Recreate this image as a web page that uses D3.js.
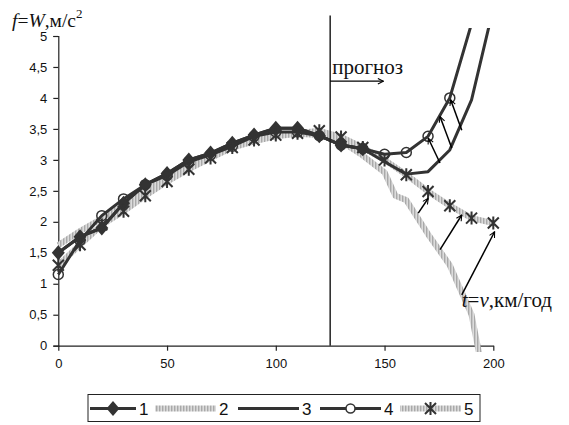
<!DOCTYPE html>
<html>
<head>
<meta charset="utf-8">
<script src="https://cdn.jsdelivr.net/npm/d3@7"></script>
<style>
  body { margin: 0; background: #fff; }
</style>
</head>
<body>
<div id="chart"></div>
<script>
// Speed values (km/h) and series
var speed = [0, 10, 20, 30, 40, 50, 60, 70, 80, 90, 100, 110, 120, 130, 140, 150, 160, 170, 180, 190, 200];
var series1 = [1.5, 1.76, 1.9, 2.3, 2.6, 2.78, 3.0, 3.11, 3.27, 3.4, 3.51, 3.51, 3.39, 3.24, 3.18];
var speed2 = [0, 10, 20, 30, 40, 50, 60, 70, 80, 90, 100, 110, 120, 130, 140, 150, 155, 160, 170, 180, 190, 195];
var series2 = [1.62, 1.85, 2.05, 2.27, 2.5, 2.7, 2.9, 3.05, 3.2, 3.3, 3.38, 3.42, 3.4, 3.3, 3.07, 2.8, 2.42, 2.35, 1.8, 1.3, 0.5, -0.4];
var series3 = [1.5, 1.76, 1.9, 2.3, 2.6, 2.78, 3.0, 3.11, 3.27, 3.4, 3.51, 3.51, 3.39, 3.24, 3.18, 2.97, 2.77, 2.81, 3.16, 3.97, 5.45];
var series4 = [1.15, 1.7, 2.1, 2.37, 2.6, 2.75, 2.97, 3.08, 3.22, 3.38, 3.45, 3.45, 3.39, 3.24, 3.18, 3.09, 3.12, 3.38, 4.0, 5.2];
var series5 = [1.3, 1.63, 1.95, 2.17, 2.42, 2.65, 2.85, 3.03, 3.2, 3.32, 3.4, 3.43, 3.47, 3.37, 3.2, 3.0, 2.76, 2.49, 2.26, 2.06, 1.98];

var yTicks = [0, 0.5, 1, 1.5, 2, 2.5, 3, 3.5, 4, 4.5, 5];
var xTicks = [0, 50, 100, 150, 200];
var legendLabels = ["1", "2", "3", "4", "5"];

var forecastAt = 125;
// arrows: [from speed, from f, to speed, to f]
var arrows = [
  [175.5, 2.95, 170.1, 3.35],
  [180.9, 3.19, 175.5, 3.70],
  [185.5, 3.48, 180.4, 3.97],
  [165.5, 2.14, 170.1, 2.38],
  [175.5, 1.55, 185.5, 2.11],
  [185.5, 0.82, 200.6, 1.84]
];

var width = 569, height = 425;
var dark = "#333";
var sans = "'Liberation Sans', Arial, sans-serif";
var serif = "'Liberation Serif', 'Times New Roman', 'DejaVu Serif', serif";

var svg = d3.select("#chart")
  .append("svg")
  .attr("width", width)
  .attr("height", height)
  .style("font-family", sans);

var x = d3.scaleLinear().domain([0, 200]).range([58.3, 493.3]);
var y = d3.scaleLinear().domain([0, 5]).range([345.7, 36]);

var defs = svg.append("defs");

// striped grey used by series 2 and 5
var pat = defs.append("pattern")
  .attr("id", "hatch")
  .attr("patternUnits", "userSpaceOnUse")
  .attr("width", 3).attr("height", 3);
pat.append("rect").attr("width", 3).attr("height", 3).attr("fill", "#dcdcdc");
pat.append("rect").attr("width", 1.4).attr("height", 3).attr("fill", "#a9a9a9");

defs.append("clipPath").attr("id", "plot-clip")
  .append("rect")
  .attr("x", x(0) - 10).attr("y", y(5.13))
  .attr("width", x(200) - x(0) + 30).attr("height", y(-0.1) - y(5.13));

defs.append("marker")
  .attr("id", "arrow")
  .attr("viewBox", "0 0 10 10")
  .attr("refX", 9).attr("refY", 5)
  .attr("markerWidth", 7).attr("markerHeight", 7)
  .attr("markerUnits", "userSpaceOnUse")
  .attr("orient", "auto")
  .append("path")
  .attr("d", "M1,1 L9,5 L1,9")
  .attr("fill", "none")
  .attr("stroke", "#000")
  .attr("stroke-width", 1.5);

// Y axis
svg.append("g")
  .attr("transform", "translate(" + x(0) + ",0)")
  .call(d3.axisLeft(y).tickValues(yTicks).tickSize(5).tickPadding(6)
    .tickFormat(d => String(d).replace(".", ",")))
  .call(g => g.selectAll("path, line").attr("stroke", "#222").attr("stroke-width", 1.2))
  .call(g => g.selectAll("text").style("font-size", "13px").style("font-family", sans).attr("fill", "#111"));

// X axis
svg.append("g")
  .attr("transform", "translate(0," + y(0) + ")")
  .call(d3.axisBottom(x).tickValues(xTicks).tickSize(5).tickPadding(8).tickSizeOuter(0))
  .call(g => g.selectAll("path, line").attr("stroke", "#222").attr("stroke-width", 1.2))
  .call(g => g.selectAll("text").style("font-size", "13px").style("font-family", sans).attr("fill", "#111"));

var plot = svg.append("g").attr("clip-path", "url(#plot-clip)");

function pts(xs, ys) {
  return ys.map((v, i) => ({v: xs[i], f: v}));
}
var line = d3.line().x(d => x(d.v)).y(d => y(d.f));

var d1 = pts(speed, series1), d2 = pts(speed2, series2), d3s = pts(speed, series3),
    d4 = pts(speed, series4), d5 = pts(speed, series5);

// grey bands
[d2, d5].forEach(function(d) {
  plot.append("path").datum(d)
    .attr("fill", "none").attr("stroke", "url(#hatch)")
    .attr("stroke-width", 6).attr("stroke-linejoin", "round")
    .attr("d", line);
});

// dark lines
[d3s, d4, d1].forEach(function(d) {
  plot.append("path").datum(d)
    .attr("fill", "none").attr("stroke", dark)
    .attr("stroke-width", 3).attr("stroke-linejoin", "round")
    .attr("d", line);
});

var diamond = "M0,-7.5L6.5,0L0,7.5L-6.5,0Z";
var star = "M-5.5,-5.5L5.5,5.5M-5.5,5.5L5.5,-5.5M0,-6.5L0,6.5";

plot.selectAll(".m1").data(d1).enter().append("path")
  .attr("transform", d => "translate(" + x(d.v) + "," + y(d.f) + ")")
  .attr("d", diamond).attr("fill", dark);

plot.selectAll(".m4").data(d4.filter(d => d.f <= 5)).enter().append("circle")
  .attr("cx", d => x(d.v)).attr("cy", d => y(d.f)).attr("r", 5)
  .attr("fill", "none").attr("stroke", dark).attr("stroke-width", 1.5);

plot.selectAll(".m5").data(d5).enter().append("path")
  .attr("transform", d => "translate(" + x(d.v) + "," + y(d.f) + ")")
  .attr("d", star).attr("fill", "none").attr("stroke", dark).attr("stroke-width", 2);

// forecast line + label
svg.append("line")
  .attr("x1", x(forecastAt)).attr("x2", x(forecastAt))
  .attr("y1", y(5.33)).attr("y2", y(0))
  .attr("stroke", "#222").attr("stroke-width", 1.5);

svg.append("line")
  .attr("x1", x(forecastAt)).attr("x2", x(149.5))
  .attr("y1", y(4.27)).attr("y2", y(4.27))
  .attr("stroke", "#000").attr("stroke-width", 1.2)
  .attr("marker-end", "url(#arrow)");

svg.append("text")
  .style("font-family", serif)
  .attr("x", x(forecastAt) + 2).attr("y", y(4.38))
  .style("font-size", "21px").attr("fill", "#111").text("прогноз");

svg.selectAll(".arr").data(arrows).enter().append("line")
  .attr("x1", d => x(d[0])).attr("y1", d => y(d[1]))
  .attr("x2", d => x(d[2])).attr("y2", d => y(d[3]))
  .attr("stroke", "#000").attr("stroke-width", 1.5)
  .attr("marker-end", "url(#arrow)");

// axis titles
var xt = svg.append("text").style("font-family", serif).attr("fill", "#111")
  .attr("x", x(185.5)).attr("y", y(0.63)).style("font-size", "21px");
xt.append("tspan").style("font-style", "italic").text("t");
xt.append("tspan").text("=");
xt.append("tspan").style("font-style", "italic").text("v");
xt.append("tspan").text(",км/год");

var yt = svg.append("text").style("font-family", serif).attr("fill", "#111")
  .attr("x", 12).attr("y", 27).style("font-size", "19.5px");
yt.append("tspan").style("font-style", "italic").text("f");
yt.append("tspan").text("=");
yt.append("tspan").style("font-style", "italic").text("W");
yt.append("tspan").text(",м/с");
yt.append("tspan").attr("dy", -9).style("font-size", "13px").text("2");

// legend
var legend = svg.append("g");
legend.append("rect")
  .attr("x", 88).attr("y", 394.5).attr("width", 392).attr("height", 27)
  .attr("fill", "#fff").attr("stroke", "#222").attr("stroke-width", 1);

var legX = [90, 155, 238, 320, 400];
var ly = 408.5;
legendLabels.forEach(function(lab, i) {
  var g = legend.append("g");
  var x0 = legX[i], x1 = legX[i] + (i === 0 ? 46 : 61);
  if (i === 1 || i === 4) {
    g.append("line").attr("x1", x0).attr("x2", x1).attr("y1", ly).attr("y2", ly)
      .attr("stroke", "url(#hatch)").attr("stroke-width", 6);
  } else {
    g.append("line").attr("x1", x0).attr("x2", x1).attr("y1", ly).attr("y2", ly)
      .attr("stroke", dark).attr("stroke-width", 3);
  }
  var cx = (x0 + x1) / 2;
  if (i === 0) g.append("path").attr("transform", "translate(" + cx + "," + ly + ")").attr("d", diamond).attr("fill", dark);
  if (i === 3) g.append("circle").attr("cx", cx).attr("cy", ly).attr("r", 4.5).attr("fill", "#fff").attr("stroke", dark).attr("stroke-width", 1.5);
  if (i === 4) g.append("path").attr("transform", "translate(" + cx + "," + ly + ")").attr("d", star).attr("stroke", dark).attr("stroke-width", 2);
  g.append("text").attr("x", x1 + 3).attr("y", ly + 6).attr("fill", "#111").style("font-size", "17px").text(lab);
});
</script>
</body>
</html>
